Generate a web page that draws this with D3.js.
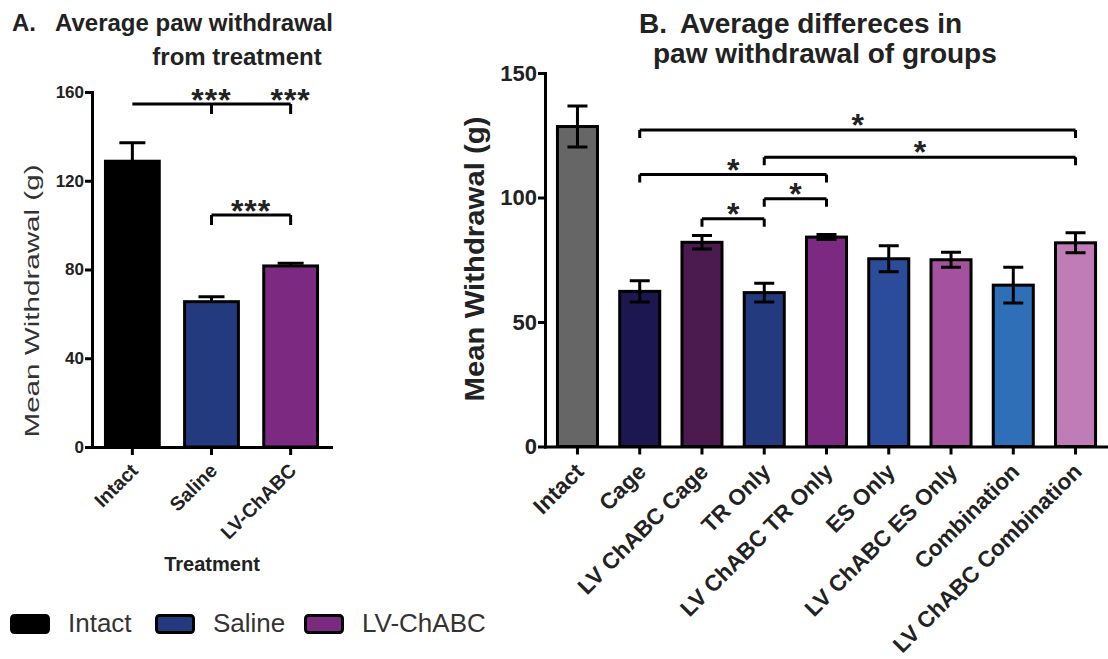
<!DOCTYPE html>
<html>
<head>
<meta charset="utf-8">
<script src="https://cdn.jsdelivr.net/npm/d3@7"></script>
<style>
  body { margin: 0; background: #fff; }
  svg { display: block; }
</style>
</head>
<body>
<svg id="chart" width="1108" height="659"></svg>
<script>
// ---- Panel A: paw withdrawal by treatment ----
const treatmentGroups = ["Intact", "Saline", "LV-ChABC"];
const treatmentMeans = [128.8, 65.5, 81.6];
const treatmentSEM = [8.3, 2.2, 1.2];
const treatmentColors = ["#000000", "#243a7e", "#7b2981"];
const treatmentTicks = [0, 40, 80, 120, 160];

// ---- Panel B: paw withdrawal by group ----
const groupNames = ["Intact", "Cage", "LV ChABC Cage", "TR Only", "LV ChABC TR Only",
  "ES Only", "LV ChABC ES Only", "Combination", "LV ChABC Combination"];
const groupMeans = [128.5, 62.3, 82.0, 61.8, 84.1, 75.4, 75.0, 64.8, 81.8];
const groupSEM = [8.2, 4.3, 2.7, 3.8, 1.0, 5.2, 3.0, 7.2, 4.0];
const groupColors = ["#666666", "#1c1750", "#4b1a4f", "#243a7e", "#7b2981",
  "#2b4c9b", "#a4519f", "#2e6fb8", "#c07cb6"];
const groupTicks = [0, 50, 100, 150];

// significance brackets: horizontal line at `level`, vertical drops at `drops`,
// label(s) placed at a category or at the midpoint
const treatmentBrackets = [
  { from: "Intact", to: "LV-ChABC", level: 154.6, drops: ["Saline", "LV-ChABC"],
    marks: [{ at: "Saline", text: "***" }, { at: "LV-ChABC", text: "***" }] },
  { from: "Saline", to: "LV-ChABC", level: 104.6, drops: ["Saline", "LV-ChABC"],
    marks: [{ at: null, text: "***" }] }
];
const groupBrackets = [
  { from: "Cage", to: "LV ChABC Combination", level: 127.1, text: "*" },
  { from: "TR Only", to: "LV ChABC Combination", level: 116.2, text: "*" },
  { from: "Cage", to: "LV ChABC TR Only", level: 109.2, text: "*" },
  { from: "TR Only", to: "LV ChABC TR Only", level: 99.5, text: "*" },
  { from: "LV ChABC Cage", to: "TR Only", level: 91.5, text: "*" }
];

const FONT = '"Liberation Sans", Arial, Helvetica, sans-serif';
const svg = d3.select("#chart");

function styleAxis(g, fontSize) {
  g.select(".domain").attr("stroke", "#000").attr("stroke-width", 3).attr("stroke-linecap", "square");
  g.selectAll(".tick line").attr("stroke", "#000").attr("stroke-width", 3);
  g.selectAll(".tick text")
    .attr("fill", "#222")
    .style("font-family", FONT)
    .style("font-weight", "bold")
    .style("font-size", fontSize + "px");
}

function drawBracketPath(x1, x2, y, dropXs, drop) {
  let p = `M${x1},${y}H${x2}`;
  dropXs.forEach(x => { p += `M${x},${y}V${y + drop}`; });
  return p;
}

// ================= Panel A =================
const xA = d3.scaleBand().domain(treatmentGroups).range([92, 331]).paddingInner(0.32).paddingOuter(0.17);
const yA = d3.scaleLinear().domain([0, 160]).range([447, 92]);
const gA = svg.append("g");

gA.selectAll("rect.bar").data(treatmentGroups).join("rect")
  .attr("class", "bar")
  .attr("x", d => xA(d))
  .attr("width", xA.bandwidth())
  .attr("y", (d, i) => yA(treatmentMeans[i]))
  .attr("height", (d, i) => yA(0) - yA(treatmentMeans[i]))
  .attr("fill", (d, i) => treatmentColors[i])
  .attr("stroke", "#000")
  .attr("stroke-width", 3);

// upper error bars
const capA = 13;
gA.selectAll("path.err").data(treatmentGroups).join("path")
  .attr("class", "err")
  .attr("d", (d, i) => {
    const cx = xA(d) + xA.bandwidth() / 2;
    const y0 = yA(treatmentMeans[i]);
    const y1 = yA(treatmentMeans[i] + treatmentSEM[i]);
    return `M${cx},${y0}V${y1}M${cx - capA},${y1}H${cx + capA}`;
  })
  .attr("fill", "none").attr("stroke", "#000").attr("stroke-width", 3);

gA.append("g").attr("transform", "translate(0,447)")
  .call(d3.axisBottom(xA).tickSize(8).tickSizeOuter(0))
  .call(g => {
    styleAxis(g, 19.5);
    g.selectAll(".tick text")
      .attr("y", 0).attr("dy", "0.35em")
      .attr("text-anchor", "end")
      .attr("transform", "translate(2,20) rotate(-45)");
  });

gA.append("g").attr("transform", "translate(92,0)")
  .call(d3.axisLeft(yA).tickValues(treatmentTicks).tickSize(7).tickPadding(1).tickSizeOuter(0))
  .call(g => styleAxis(g, 17));

// brackets
const cA = d => xA(d) + xA.bandwidth() / 2;
treatmentBrackets.forEach(b => {
  const y = yA(b.level);
  gA.append("path")
    .attr("d", drawBracketPath(cA(b.from), cA(b.to), y, b.drops.map(cA), 10))
    .attr("fill", "none").attr("stroke", "#000").attr("stroke-width", 3);
  b.marks.forEach(m => {
    const x = m.at ? cA(m.at) : (cA(b.from) + cA(b.to)) / 2;
    gA.append("text")
      .attr("x", x).attr("y", y - 12 + 19)
      .attr("text-anchor", "middle")
      .style("font-family", FONT).style("font-weight", "bold").style("font-size", "32px")
      .style("letter-spacing", "1px")
      .attr("fill", "#222")
      .text(m.text);
  });
});

// axis titles
gA.append("text")
  .attr("transform", "translate(38.5,301) rotate(-90)")
  .attr("text-anchor", "middle")
  .attr("textLength", 273).attr("lengthAdjust", "spacingAndGlyphs")
  .style("font-family", FONT).style("font-size", "21px")
  .attr("fill", "#333")
  .text("Mean Withdrawal (g)");

gA.append("text")
  .attr("x", 212).attr("y", 571)
  .attr("text-anchor", "middle")
  .style("font-family", FONT).style("font-weight", "bold").style("font-size", "20px")
  .attr("fill", "#222")
  .text("Treatment");

// panel title
const titleA = gA.append("g").attr("fill", "#222")
  .style("font-family", FONT).style("font-weight", "bold").style("font-size", "24px");
titleA.append("text").attr("x", 12).attr("y", 31).text("A.");
titleA.append("text").attr("x", 55).attr("y", 31).text("Average paw withdrawal");
titleA.append("text").attr("x", 237).attr("y", 65).attr("text-anchor", "middle").text("from treatment");

// legend
const legend = svg.append("g");
const legendX = [10, 155, 304];
treatmentGroups.forEach((name, i) => {
  legend.append("rect")
    .attr("x", legendX[i] + 1.5).attr("y", 615.5)
    .attr("width", 37).attr("height", 17).attr("rx", 3)
    .attr("fill", treatmentColors[i]).attr("stroke", "#000").attr("stroke-width", 3);
  legend.append("text")
    .attr("x", legendX[i] + 58).attr("y", 632)
    .style("font-family", FONT).style("font-size", "26px")
    .attr("fill", "#333")
    .text(name);
});

// ================= Panel B =================
const xB = d3.scaleBand().domain(groupNames).range([545, 1108]).paddingInner(0.357).paddingOuter(0.2);
const yB = d3.scaleLinear().domain([0, 150]).range([446.5, 73]);
const gB = svg.append("g");

gB.selectAll("rect.bar").data(groupNames).join("rect")
  .attr("class", "bar")
  .attr("x", d => xB(d))
  .attr("width", xB.bandwidth())
  .attr("y", (d, i) => yB(groupMeans[i]))
  .attr("height", (d, i) => yB(0) - yB(groupMeans[i]))
  .attr("fill", (d, i) => groupColors[i])
  .attr("stroke", "#000")
  .attr("stroke-width", 3);

const capB = 10;
gB.selectAll("path.err").data(groupNames).join("path")
  .attr("class", "err")
  .attr("d", (d, i) => {
    const cx = xB(d) + xB.bandwidth() / 2;
    const yLo = yB(groupMeans[i] - groupSEM[i]);
    const yHi = yB(groupMeans[i] + groupSEM[i]);
    return `M${cx},${yLo}V${yHi}M${cx - capB},${yHi}H${cx + capB}M${cx - capB},${yLo}H${cx + capB}`;
  })
  .attr("fill", "none").attr("stroke", "#000").attr("stroke-width", 3);

gB.append("g").attr("transform", "translate(0,446.5)")
  .call(d3.axisBottom(xB).tickSize(8).tickSizeOuter(0))
  .call(g => {
    styleAxis(g, 22.5);
    g.selectAll(".tick text")
      .attr("y", 0).attr("dy", "0.35em")
      .attr("text-anchor", "end")
      .attr("transform", "translate(2,21) rotate(-45)");
  });

gB.append("g").attr("transform", "translate(545,0)")
  .call(d3.axisLeft(yB).tickValues(groupTicks).tickSize(7).tickPadding(1).tickSizeOuter(0))
  .call(g => styleAxis(g, 22));

const cB = d => xB(d) + xB.bandwidth() / 2;
groupBrackets.forEach(b => {
  const y = yB(b.level);
  const x1 = cB(b.from), x2 = cB(b.to);
  gB.append("path")
    .attr("d", drawBracketPath(x1, x2, y, [x1, x2], 8))
    .attr("fill", "none").attr("stroke", "#000").attr("stroke-width", 3);
  gB.append("text")
    .attr("x", (x1 + x2) / 2).attr("y", y - 13 + 19)
    .attr("text-anchor", "middle")
    .style("font-family", FONT).style("font-weight", "bold").style("font-size", "32px")
    .attr("fill", "#222")
    .text(b.text);
});

gB.append("text")
  .attr("transform", "translate(484,259) rotate(-90)")
  .attr("text-anchor", "middle")
  .attr("textLength", 285).attr("lengthAdjust", "spacingAndGlyphs")
  .style("font-family", FONT).style("font-weight", "bold").style("font-size", "28px")
  .attr("fill", "#222")
  .text("Mean Withdrawal (g)");

const titleB = gB.append("g").attr("fill", "#222")
  .style("font-family", FONT).style("font-weight", "bold").style("font-size", "28px");
titleB.append("text").attr("x", 639).attr("y", 33).text("B.");
titleB.append("text").attr("x", 680).attr("y", 33).text("Average differeces in");
titleB.append("text").attr("x", 653).attr("y", 63).text("paw withdrawal of groups");
</script>
</body>
</html>
